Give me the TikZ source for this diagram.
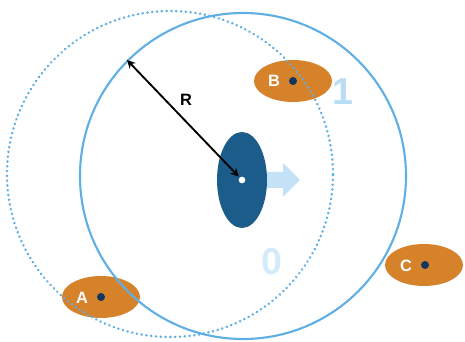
\documentclass[tikz,border=0pt]{standalone}
\usepackage{fontspec}
\setmainfont{Liberation Sans}
\usetikzlibrary{arrows.meta,shapes.geometric}

\definecolor{azul_claro}{RGB}{95,175,228}
\definecolor{azul_palido}{RGB}{195,226,246}
\definecolor{azul_oscuro}{RGB}{28,92,138}
\definecolor{azul_punto}{RGB}{18,55,95}
\definecolor{naranja}{RGB}{214,130,42}

\begin{document}
\begin{tikzpicture}[x=0.03cm, y=-0.03cm]
  % Definir estilos
  \tikzset{
    circulo_solido/.style={circle, draw=azul_claro, line width=1.8pt, minimum size=9.78cm, inner sep=0pt},
    circulo_punteado/.style={circle, draw=azul_claro, line width=2.3pt, dash pattern=on 0.1pt off 4pt, line cap=round, minimum size=9.78cm, inner sep=0pt},
    elipse_naranja/.style={ellipse, fill=naranja, minimum width=2.34cm, minimum height=1.26cm, inner sep=0pt},
    punto/.style={circle, fill=azul_punto, minimum size=0.24cm, inner sep=0pt},
    letra/.style={text=white, font=\bfseries\fontsize{14}{16}\selectfont},
    numero/.style={font=\bfseries\fontsize{32}{36}\selectfont},
    flecha_radio/.style={{Stealth[length=7pt,width=7pt]}-{Stealth[length=7pt,width=7pt]}, line width=1.6pt, black}
  }

  \useasboundingbox (0,0) rectangle (465,342);

  % Elipses naranjas
  \node[elipse_naranja] (elipseA) at (101,297) {};
  \node[elipse_naranja] (elipseB) at (293,81) {};
  \node[elipse_naranja] (elipseC) at (424,265) {};

  % Circulos
  \node[circulo_punteado] (punteado) at (170,174) {};
  \node[circulo_solido] (solido) at (243,176) {};

  % Flecha de velocidad
  \fill[azul_palido] (260,172) -- (283,172) -- (283,163) -- (300,180) -- (283,197) -- (283,188) -- (260,188) -- cycle;

  % Elipse central
  \node[ellipse, fill=azul_oscuro, minimum width=1.5cm, minimum height=2.88cm, inner sep=0pt] (nucleo) at (242,180) {};
  \node[circle, fill=white, minimum size=0.2cm, inner sep=0pt] (centro) at (242,180) {};

  % Radio
  \draw[flecha_radio, shorten >=1pt] (solido.135) -- (centro);
  \node[font=\bfseries\fontsize{14}{16}\selectfont] (etiquetaR) at (186,100) {R};

  % Puntos y letras
  \node[punto] (puntoA) at (101,297) {};
  \node[punto] (puntoB) at (293,81) {};
  \node[punto] (puntoC) at (425,265) {};
  \node[letra] (letraA) at (82,298) {A};
  \node[letra] (letraB) at (274,81) {B};
  \node[letra] (letraC) at (406,266) {C};

  % Numeros
  \node[numero, text=azul_palido!90!azul_claro] (uno) at (343,92) {1};
  \node[numero, text=azul_palido!70!white] (cero) at (272,262) {0};
\end{tikzpicture}
\end{document}
